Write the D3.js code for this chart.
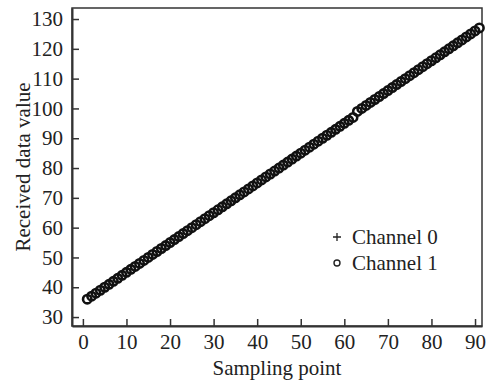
<!DOCTYPE html>
<html>
<head>
<meta charset="utf-8">
<title>Received data value</title>
<script src="https://d3js.org/d3.v7.min.js"></script>
<style>
  body { margin: 0; background: #fff; }
  svg text { font-family: "Liberation Serif", "Times New Roman", serif; fill: #222; }
</style>
</head>
<body>
<div id="chart"></div>
<script>
// sampling points and values
var samples = d3.range(1, 92);
var channel0 = [
  36, 37, 38, 39, 40, 41, 42, 43, 44, 45,
  46, 47, 48, 49, 50, 51, 52, 53, 54, 55,
  56, 57, 58, 59, 60, 61, 62, 63, 64, 65,
  66, 67, 68, 69, 70, 71, 72, 73, 74, 75,
  76, 77, 78, 79, 80, 81, 82, 83, 84, 85,
  86, 87, 88, 89, 90, 91, 92, 93, 94, 95,
  96, 97, 99, 100, 101, 102, 103, 104, 105, 106,
  107, 108, 109, 110, 111, 112, 113, 114, 115, 116,
  117, 118, 119, 120, 121, 122, 123, 124, 125, 126,
  127
];
var channel1 = channel0.slice();
var xTicks = [0, 10, 20, 30, 40, 50, 60, 70, 80, 90];
var yTicks = [30, 40, 50, 60, 70, 80, 90, 100, 110, 120, 130];
var legendLabels = ["Channel 0", "Channel 1"];

const width = 490, height = 383;
const margin = {left: 72, right: 8, top: 8, bottom: 57};
const fs = 21;

const x = d3.scaleLinear().domain([-2.5, 91.6]).range([margin.left, width - margin.right]);
const y = d3.scaleLinear().domain([27, 133.7]).range([height - margin.bottom, margin.top]);

const svg = d3.select("#chart").append("svg")
  .attr("width", width)
  .attr("height", height);

// frame
svg.append("rect")
  .attr("x", margin.left).attr("y", margin.top)
  .attr("width", width - margin.left - margin.right)
  .attr("height", height - margin.top - margin.bottom)
  .attr("fill", "none").attr("stroke", "#333").attr("stroke-width", 1.5);

// axes, ticks pointing inwards
const xAxis = svg.append("g")
  .attr("transform", "translate(0," + (height - margin.bottom) + ")")
  .call(d3.axisBottom(x).tickValues(xTicks).tickSizeInner(-7).tickSizeOuter(0).tickPadding(9));
const yAxis = svg.append("g")
  .attr("transform", "translate(" + margin.left + ",0)")
  .call(d3.axisLeft(y).tickValues(yTicks).tickSizeInner(-7).tickSizeOuter(0).tickPadding(9));

[xAxis, yAxis].forEach(function(g) {
  g.select(".domain").attr("stroke", "#333").attr("stroke-width", 2);
  g.selectAll(".tick line").attr("stroke", "#333").attr("stroke-width", 1.5);
  g.selectAll(".tick text")
    .attr("font-family", "Liberation Serif, serif")
    .attr("font-size", fs).attr("fill", "#222");
});
xAxis.selectAll(".tick text").attr("dy", "0.68em");

// axis titles
svg.append("text")
  .attr("x", 277).attr("y", 375)
  .attr("text-anchor", "middle").attr("font-size", fs)
  .text("Sampling point");
svg.append("text")
  .attr("transform", "translate(30,167) rotate(-90)")
  .attr("text-anchor", "middle").attr("font-size", fs)
  .text("Received data value");

// plus marker path
function plus(s) {
  return "M" + (-s) + ",0H" + s + "M0," + (-s) + "V" + s;
}

// channel 0 (+)
svg.append("g").selectAll("path")
  .data(samples)
  .join("path")
  .attr("transform", (d, i) => "translate(" + x(d) + "," + y(channel0[i]) + ")")
  .attr("d", plus(3.5))
  .attr("stroke", "#111").attr("stroke-width", 1.2);

// channel 1 (o): white centres first, then the rings on top
const ch1 = svg.append("g");
ch1.selectAll("circle.bg")
  .data(samples)
  .join("circle")
  .attr("class", "bg")
  .attr("cx", d => x(d))
  .attr("cy", (d, i) => y(channel1[i]))
  .attr("r", 4.2)
  .attr("fill", "#fff");
ch1.selectAll("circle.ring")
  .data(samples)
  .join("circle")
  .attr("class", "ring")
  .attr("cx", d => x(d))
  .attr("cy", (d, i) => y(channel1[i]))
  .attr("r", 4.2)
  .attr("fill", "none")
  .attr("stroke", "#111").attr("stroke-width", 2.6);

// legend
const legend = svg.append("g").attr("transform", "translate(337,237)");
legend.append("path").attr("d", plus(4)).attr("stroke", "#222").attr("stroke-width", 1.3);
legend.append("circle").attr("cy", 26).attr("r", 3)
  .attr("fill", "none").attr("stroke", "#222").attr("stroke-width", 1.4);
legend.selectAll("text")
  .data(legendLabels)
  .join("text")
  .attr("x", 15)
  .attr("y", (d, i) => i * 26)
  .attr("dy", "0.33em")
  .attr("font-size", fs)
  .text(d => d);
</script>
</body>
</html>
